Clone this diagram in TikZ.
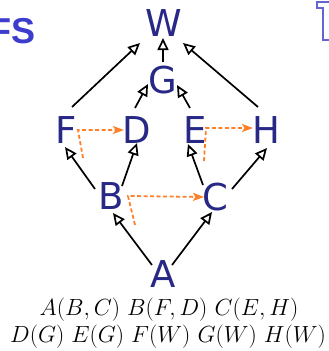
\documentclass[tikz,border=0pt]{standalone}
\usepackage{graphicx}
\usepackage{fontspec}
\newfontfamily\nodefont{DejaVu Sans}
\newfontfamily\titlefont{Liberation Sans}
\usetikzlibrary{arrows.meta,calc}
\definecolor{navy}{RGB}{40,40,135}
\definecolor{ttlblue}{RGB}{60,60,205}
\definecolor{outl}{RGB}{100,100,210}
\definecolor{trace}{RGB}{255,128,40}
\tikzset{
  vtx/.style={font=\nodefont\fontsize{37}{37}\selectfont, text=navy, inner sep=0pt, text height=27pt, text depth=0pt, anchor=center},
  arr/.style={line width=1.7pt, -{Triangle[open, length=12pt, width=11pt, fill=white]}},
  thr/.style={line width=1.8pt, trace, dash pattern=on 4pt off 2.5pt, -{Stealth[length=11pt, width=8pt, inset=2.5pt]}},
  adjtxt/.style={font=\fontsize{20.74}{25}\selectfont, inner sep=0pt, anchor=base}
}
\newcommand{\adjscale}[1]{\scalebox{1.125}{#1}}
\begin{document}
\begin{tikzpicture}[x=1pt,y=-1pt]
\useasboundingbox (0,0) rectangle (329,351);
% title fragments
\node[font=\titlefont\bfseries\fontsize{36}{36}\selectfont, text=ttlblue, inner sep=0pt, anchor=base east] (ttl) at (36,43) {FS};
\draw[outl, line width=1.3pt] (329,2) -- (317,2) -- (317,8) -- (323,8) -- (323,40) -- (329,40);
% vertices
\node[vtx] (W) at (164,23) {W};
\node[vtx] (G) at (163,80) {G};
\node[vtx] (F) at (66,130) {F};
\node[vtx] (D) at (137,130) {D};
\node[vtx] (E) at (195,130) {E};
\node[vtx] (H) at (266,130) {H};
\node[vtx] (B) at (111,196) {B};
\node[vtx] (C) at (215,197) {C};
\node[vtx] (A) at (163,274) {A};
% edges
\draw[arr] ([shift={(6,-23)}]F.center) -- ([shift={(-24,20)}]W.center);
\draw[arr] ([shift={(0,-18)}]G.center) -- ([shift={(-1,15)}]W.center);
\draw[arr] ([shift={(-8,-23)}]H.center) -- ([shift={(19,20)}]W.center);
\draw[arr] ([shift={(-2,-22)}]D.center) -- ([shift={(-15,4)}]G.center);
\draw[arr] ([shift={(-5,-22)}]E.center) -- ([shift={(14,5)}]G.center);
\draw[arr] ([shift={(-16,-7)}]B.center) -- ([shift={(-1,17)}]F.center);
\draw[arr] ([shift={(11,-10)}]B.center) -- ([shift={(0,13)}]D.center);
\draw[arr] ([shift={(-12,-12)}]C.center) -- ([shift={(-7,14)}]E.center);
\draw[arr] ([shift={(17,-8)}]C.center) -- ([shift={(1,18)}]H.center);
\draw[arr] ([shift={(-11,-9)}]A.center) -- ([shift={(2,17)}]B.center);
\draw[arr] ([shift={(9,-9)}]A.center) -- ([shift={(-3,15)}]C.center);
% traces
\draw[thr] ([shift={(17,28)}]F.center) -- ([shift={(12,0)}]F.center) -- ([shift={(-13,0)}]D.center);
\draw[thr] ([shift={(9,31)}]E.center) -- ([shift={(11,-2)}]E.center) -- ([shift={(-13,-2)}]H.center);
\draw[thr] ([shift={(24,29)}]B.center) -- ([shift={(17,0)}]B.center) -- ([shift={(-11,0)}]C.center);
% adjacency text
\node[adjtxt] (adj1) at (169,315) {\adjscale{$A(B,C)\ B(F,D)\ C(E,H)$}};
\node[adjtxt] (adj2) at (168,342) {\adjscale{$D(G)\ E(G)\ F(W)\ G(W)\ H(W)$}};
\end{tikzpicture}
\end{document}
